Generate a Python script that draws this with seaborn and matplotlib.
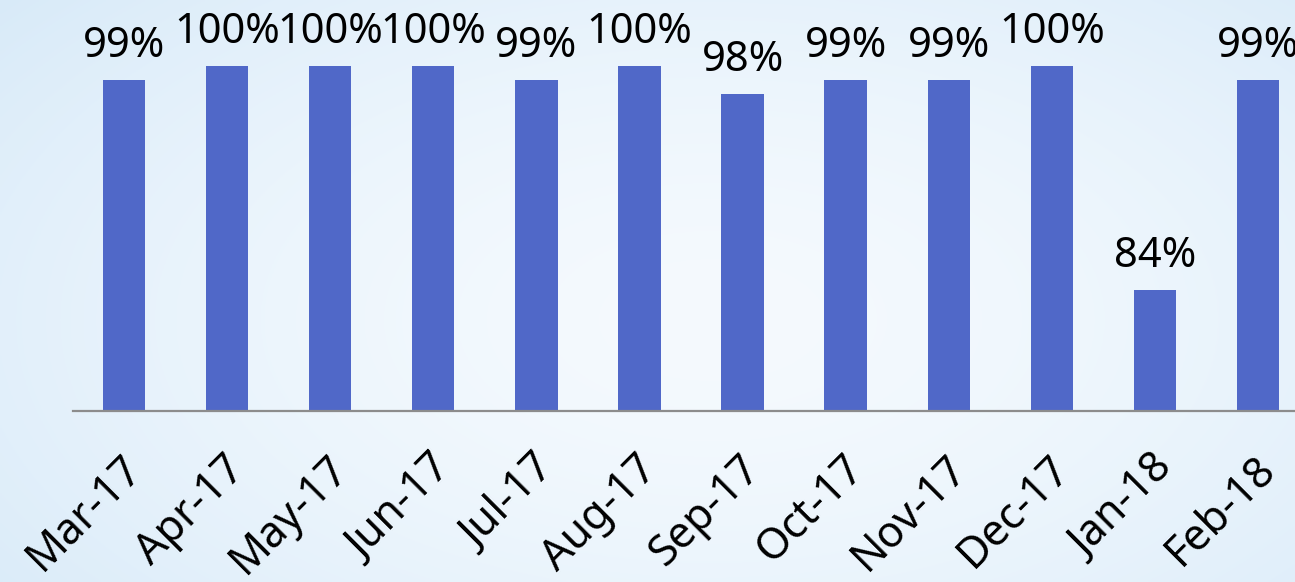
import numpy as np
import pandas as pd
import seaborn as sns
import matplotlib.pyplot as plt
from matplotlib import transforms

# data
months = ["Mar-17", "Apr-17", "May-17", "Jun-17", "Jul-17", "Aug-17",
          "Sep-17", "Oct-17", "Nov-17", "Dec-17", "Jan-18", "Feb-18"]
pct = [99, 100, 100, 100, 99, 100, 98, 99, 99, 100, 84, 99]

df = pd.DataFrame({"month": months, "pct": pct})

sns.set_style("white")
plt.rcParams['font.family'] = ['Noto Sans', 'DejaVu Sans']

fig = plt.figure(figsize=(12.95, 5.82), dpi=100)

# light blue background, paler in the middle
bg = fig.add_axes([0, 0, 1, 1], zorder=-10)
yy, xx = np.mgrid[0:1:300j, 0:1:600j]
r = np.sqrt(((xx - 0.55) / 0.75) ** 2 + ((yy - 0.45) / 0.9) ** 2)
r = np.clip(r, 0, 1)
c_in = np.array([245, 250, 254]) / 255
c_out = np.array([214, 233, 248]) / 255
img = c_in[None, None, :] * (1 - r[..., None] ** 1.6) + c_out[None, None, :] * r[..., None] ** 1.6
bg.imshow(img, aspect='auto', extent=[0, 1, 0, 1], origin='lower')
bg.axis('off')

# axes runs past the right edge, the picture is cropped
ax = fig.add_axes([72.5 / 1295, 171 / 582, 1237 / 1295, 411 / 582])
ax.patch.set_alpha(0)
sns.barplot(data=df, x="month", y="pct", color="#5068C8", width=0.41,
            saturation=1, linewidth=0, ax=ax)

ax.set_ylim(75.36, 104.71)
ax.set_xlim(-0.5, 11.5)

for i, v in enumerate(pct):
    ax.annotate(f"{v}%", (i, v), xytext=(0, 16.5), textcoords="offset points",
                ha="center", va="baseline", fontsize=30, color="black")

for s in ["top", "right", "left"]:
    ax.spines[s].set_visible(False)
ax.spines["bottom"].set_color("#8c8c8c")
ax.spines["bottom"].set_linewidth(1.6)
ax.set_yticks([])
ax.set_xlabel("")
ax.set_ylabel("")
ax.tick_params(axis="x", length=0, pad=26, labelcolor="black")
ax.set_xticks(range(len(months)))
ax.set_xticklabels(months, rotation=45, ha="right", rotation_mode="anchor",
                   fontsize=31)
shift = transforms.ScaledTranslation(-4 / 100, 0, fig.dpi_scale_trans)
for lab in ax.get_xticklabels():
    lab.set_transform(lab.get_transform() + shift)

fig.savefig("out.png", dpi=100)
